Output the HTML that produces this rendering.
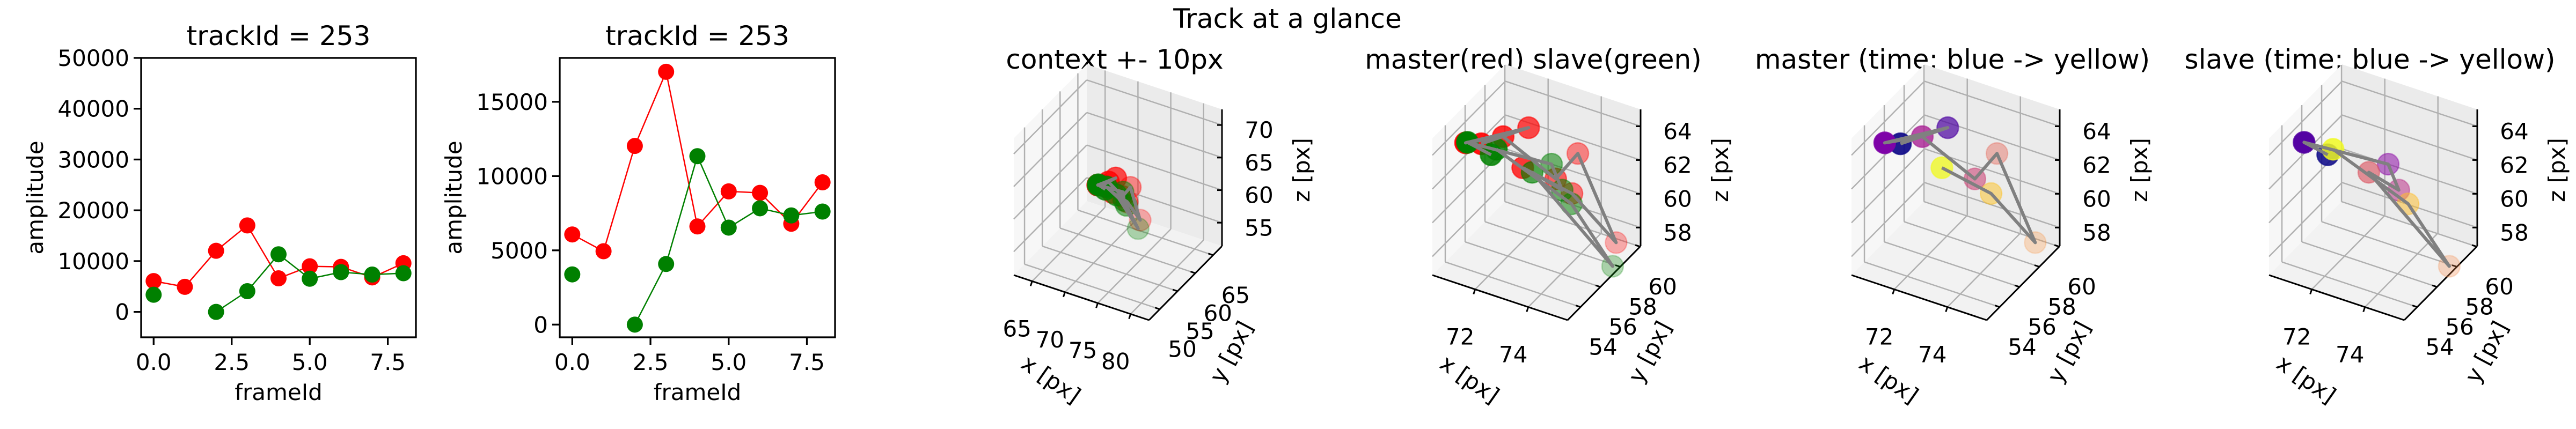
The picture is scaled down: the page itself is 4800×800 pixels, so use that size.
<!DOCTYPE html>
<html><head><meta charset="utf-8">
<style>
html,body{margin:0;padding:0;background:#fff;}
svg{display:block;font-family:"DejaVu Sans","Liberation Sans",sans-serif;}
</style></head>
<body>
<svg id="fig" width="4800" height="800" viewBox="0 0 4800 800" xmlns="http://www.w3.org/2000/svg">
<rect x="0" y="0" width="4800" height="800" fill="#fff"/>
<text x="2399" y="52" font-size="50" text-anchor="middle">Track at a glance</text>
</svg>
<script>
// ---- data ----
const masterFrames = [0,1,2,3,4,5,6,7,8];
const masterAmp = [6070,4940,12030,17020,6610,8970,8870,6790,9580];
const slaveFrames = [0,2,3,4,5,6,7,8];
const slaveAmp = [3380,0,4080,11340,6530,7830,7350,7610];
const masterX = [71.41,72.63,71.08,71.97,73.65,73.66,74.97,74.00,72.97];
const masterY = [54.9,56.4,54.2,55.6,56.4,58.6,58.95,57.1,54.9];
const masterZ = [63.9,64.6,64.2,64.2,62.1,62.3,57.5,61.0,63.3];
const slaveX = [71.64,71.16,72.95,73.90,72.77,75.25,74.25,71.84];
const slaveY = [55.27,54.17,57.85,56.38,56.38,57.85,56.38,55.27];
const slaveZ = [63.15,64.29,61.74,61.58,62.04,56.9,60.95,63.58];
const xTicks2d = [0,2.5,5,7.5];
const yTicksA = [0,10000,20000,30000,40000,50000];
const yTicksB = [0,5000,10000,15000];
const ctxXTicks = [65,70,75,80], ctxYTicks = [50,55,60,65], ctxZTicks = [55,60,65,70];
const zXTicks = [72,74], zYTicks = [54,56,58,60], zZTicks = [58,60,62,64];
const plasma9 = ['#0d0887','#4c02a1','#7e03a8','#a92395','#cc4778','#e56b5d','#f89441','#fdc328','#f0f921'];
const plasma8 = ['#0d0887','#5402a3','#8b0aa5','#b93289','#db5c68','#f48849','#febd2a','#f0f921'];

const svg = document.getElementById('fig');
const NS = 'http://www.w3.org/2000/svg';
function mk(tag, attrs, parent){
  const e = document.createElementNS(NS, tag);
  for (const k in attrs) e.setAttribute(k, attrs[k]);
  (parent||svg).appendChild(e);
  return e;
}
function txt(s, x, y, size, anchor, parent, rot){
  const t = mk('text', {x:x, y:y, 'font-size':size, 'text-anchor':anchor||'middle', fill:'#000'}, parent);
  if (rot !== undefined) t.setAttribute('transform', 'rotate('+rot+' '+x+' '+y+')');
  t.textContent = s;
  return t;
}

// ---- 2D plots ----
function plot2d(L, R, T, B, ylim, yTicks, title, nameTag){
  const g = mk('g', {});
  
  
  const xlim = [-0.4, 8.4];
  const sx = v => L + (v - xlim[0]) / (xlim[1]-xlim[0]) * (R-L);
  const sy = v => B - (v - ylim[0]) / (ylim[1]-ylim[0]) * (B-T);
  const tt = txt(title, (L+R)/2, 84, 50, 'middle', g);
  
  
  xTicks2d.forEach(v => {
    mk('line', {x1:sx(v), y1:B, x2:sx(v), y2:B+14, stroke:'#000', 'stroke-width':3.3}, g);
    const t = txt(v.toFixed(1), sx(v), 690, 42, 'middle', g);
    
    
  });
  yTicks.forEach(v => {
    mk('line', {x1:L-14, y1:sy(v), x2:L, y2:sy(v), stroke:'#000', 'stroke-width':3.3}, g);
    const t = txt(String(v), L-22, sy(v)+15, 42, 'end', g);
    
    
  });
  const xl = txt('frameId', (L+R)/2, 746, 42, 'middle', g);
  
  
  const yl = txt('amplitude', L-183, (T+B)/2, 42, 'middle', g, -90);
  
  
  function series(fr, amp, color, nm){
    let segs = [], cur = [];
    fr.forEach((f,i) => {
      if (i>0 && f - fr[i-1] > 1) { segs.push(cur); cur = []; }
      cur.push(sx(f)+','+sy(amp[i]));
    });
    segs.push(cur);
    segs.forEach(s => {
      const pl = mk('polyline', {points:s.join(' '), fill:'none', stroke:color, 'stroke-width':2.5}, g);
      
      
    });
    fr.forEach((f,i) => {
      const c = mk('circle', {cx:sx(f), cy:sy(amp[i]), r:15, fill:color}, g);
      
      
    });
  }
  series(masterFrames, masterAmp, '#ff0000', 'master');
  series(slaveFrames, slaveAmp, '#008000', 'slave');
  mk('rect', {x:L, y:T, width:R-L, height:B-T, fill:'none', stroke:'#000', 'stroke-width':3.3}, g);
}
plot2d(263, 775, 108, 629, [-5000, 50000], yTicksA, 'trackId = 253', 'amplitude-plot-full');
plot2d(1043, 1556, 108, 629, [-855, 17955], yTicksB, 'trackId = 253', 'amplitude-plot-zoom');

// ---- 3D plots ----
const EX = [252, 84], EY = [136, -138], EZ = [0, -255];
function plot3d(Ax, Ay, lim, tk, title, nameTag, seriesList){
  const g = mk('g', {});
  
  
  const nx = v => (v-lim.x[0])/(lim.x[1]-lim.x[0]);
  const ny = v => (v-lim.y[0])/(lim.y[1]-lim.y[0]);
  const nz = v => (v-lim.z[0])/(lim.z[1]-lim.z[0]);
  const P = (a,b,c) => [Ax + a*EX[0] + b*EY[0] + c*EZ[0], Ay + a*EX[1] + b*EY[1] + c*EZ[1]];
  const proj = (x,y,z) => P(nx(x), ny(y), nz(z));
  const poly = pts => pts.map(p => p.join(',')).join(' ');
  const tt = txt(title, Ax+188, 128, 50, 'middle', g);
  
  
  mk('polygon', {points:poly([P(0,0,0),P(0,1,0),P(0,1,1),P(0,0,1)]), fill:'#f7f7f7'}, g);
  mk('polygon', {points:poly([P(0,1,0),P(1,1,0),P(1,1,1),P(0,1,1)]), fill:'#ebebeb'}, g);
  mk('polygon', {points:poly([P(0,0,0),P(1,0,0),P(1,1,0),P(0,1,0)]), fill:'#f2f2f2'}, g);
  const gl = (p,q) => mk('line', {x1:p[0], y1:p[1], x2:q[0], y2:q[1], stroke:'#b0b0b0', 'stroke-width':2.5}, g);
  tk.x.forEach(v => { const a=nx(v); gl(P(a,0,0),P(a,1,0)); gl(P(a,1,0),P(a,1,1)); });
  tk.y.forEach(v => { const b=ny(v); gl(P(0,b,0),P(1,b,0)); gl(P(0,b,0),P(0,b,1)); });
  tk.z.forEach(v => { const c=nz(v); gl(P(0,0,c),P(0,1,c)); gl(P(0,1,c),P(1,1,c)); });
  const al = (p,q,nm) => { const l = mk('line', {x1:p[0], y1:p[1], x2:q[0], y2:q[1], stroke:'#000', 'stroke-width':3}, g);
      };
  al(P(0,0,0),P(1,0,0),'x-axis-line');
  al(P(1,0,0),P(1,1,0),'y-axis-line');
  al(P(1,1,0),P(1,1,1),'z-axis-line');
  tk.x.forEach(v => { const p=P(nx(v),0,0);
    mk('line',{x1:p[0],y1:p[1],x2:p[0]-3,y2:p[1]+9,stroke:'#000','stroke-width':3},g);
    const t = txt(String(v), p[0]-28, p[1]+103, 42, 'middle', g);
      });
  tk.y.forEach(v => { const p=P(1,ny(v),0);
    mk('line',{x1:p[0],y1:p[1],x2:p[0]-9,y2:p[1]-3,stroke:'#000','stroke-width':3},g);
    const t = txt(String(v), p[0]+42, p[1]+89, 42, 'middle', g);
      });
  tk.z.forEach(v => { const p=P(1,1,nz(v));
    mk('line',{x1:p[0]-9,y1:p[1],x2:p[0],y2:p[1],stroke:'#000','stroke-width':3},g);
    const t = txt(String(v), p[0]+69, p[1]+24, 42, 'middle', g);
      });
  const xl = txt('x [px]', Ax+61, Ay+206, 42, 'middle', g, 35);
   
  const yl = txt('y [px]', Ax+418, Ay+150, 42, 'middle', g, -62);
   
  const zl = txt('z [px]', Ax+551, Ay-196, 42, 'middle', g, -90);
   
  seriesList.forEach(s => {
    const d = s.x.map((v,i) => nx(v) + ny(s.y[i]));
    const dmin = Math.min(...d), dmax = Math.max(...d);
    s.x.forEach((v,i) => {
      const p = proj(v, s.y[i], s.z[i]);
      const al2 = 1 - 0.7*(d[i]-dmin)/((dmax-dmin)||1);
      const col = Array.isArray(s.color) ? s.color[i] : s.color;
      const c = mk('circle', {cx:p[0], cy:p[1], r:20, fill:col, 'fill-opacity':al2, stroke:col, 'stroke-opacity':al2*0.8, 'stroke-width':2.5}, g);
      
      
    });
  });
  seriesList.forEach(s => {
    const pts = s.x.map((v,i) => proj(v, s.y[i], s.z[i]).join(',')).join(' ');
    const pl = mk('polyline', {points:pts, fill:'none', stroke:'#808080', 'stroke-width':6, 'stroke-linejoin':'round'}, g);
    
    
  });
}
const master = {x:masterX, y:masterY, z:masterZ};
const slave = {x:slaveX, y:slaveY, z:slaveZ};
const ctxLim = {x:[62.2,82.8], y:[46.97,67.5], z:[51.4,72.4]};
const zLim = {x:[70.39,75.48], y:[52.7,60.05], z:[56.9,65.0]};
plot3d(1889, 513, ctxLim, {x:ctxXTicks,y:ctxYTicks,z:ctxZTicks}, 'context +- 10px', 'context-3d-plot',
  [Object.assign({color:'#ff0000', name:'master'}, master), Object.assign({color:'#008000', name:'slave'}, slave)]);
plot3d(2669, 513, zLim, {x:zXTicks,y:zYTicks,z:zZTicks}, 'master(red) slave(green)', 'master-slave-3d-plot',
  [Object.assign({color:'#ff0000', name:'master'}, master), Object.assign({color:'#008000', name:'slave'}, slave)]);
plot3d(3450, 513, zLim, {x:zXTicks,y:zYTicks,z:zZTicks}, 'master (time: blue -> yellow)', 'master-time-3d-plot',
  [Object.assign({color:plasma9, name:'master'}, master)]);
plot3d(4228, 513, zLim, {x:zXTicks,y:zYTicks,z:zZTicks}, 'slave (time: blue -> yellow)', 'slave-time-3d-plot',
  [Object.assign({color:plasma8, name:'slave'}, slave)]);
</script>
</body></html>
